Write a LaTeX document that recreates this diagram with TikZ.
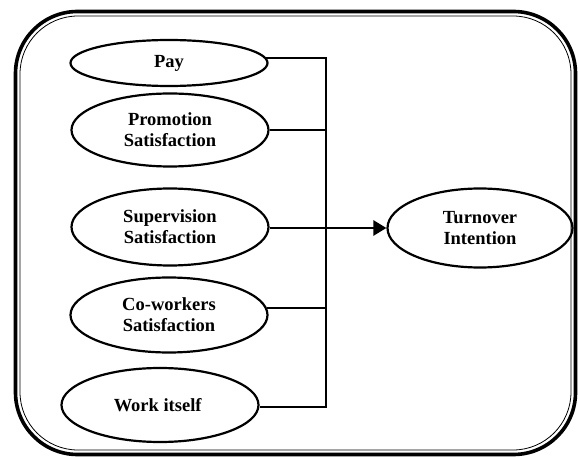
\documentclass[tikz,border=0pt]{standalone}
\usepackage{fontspec}
\setmainfont{Liberation Serif}
\usepackage{tikz}
\usetikzlibrary{arrows.meta}
\usetikzlibrary{positioning}
\usetikzlibrary{calc}
\usetikzlibrary{shapes.geometric}
\tikzset{basic factor/.style={draw,ellipse,inner sep=0pt,line width=2.2pt,
                              align=center,font=\bfseries\fontsize{18.5}{21}\selectfont}}
\tikzset{link/.style={draw,line width=2.6pt,line join=miter}}
\tikzset{frame/.style={draw,rounded corners=62pt}}

\begin{document}
\begin{tikzpicture}
      [
      x=1pt,y=-1pt,
      factor/.style={basic factor,minimum width=197pt,minimum height=#1},
      ]

      \useasboundingbox (0,0) rectangle (578,457);

      % frame
      \path [frame,line width=3.6pt] (15.5,11.5) rectangle (575.5,454.5);
      \path [frame,line width=0.8pt,rounded corners=58pt] (20,16) rectangle (571,450);

      % factors
      \foreach \n/\x/\y/\h/\t in
      {
      pay/169/63/46pt/Pay,
      promo/170/130/73pt/{Promotion\\Satisfaction},
      superv/170/227/77pt/{Supervision\\Satisfaction},
      cowork/169/315/75pt/{Co-workers\\Satisfaction},
      work/160/405/74pt/{Work itself}
      }
      {
      \node [factor=\h] (\n) at (\x,\y) {\t};
      }

      \node [factor=79pt,minimum width=185pt] (turnover) at (480,228) {Turnover\\Intention};

      % bus
      \coordinate (bustop) at (326,57);
      \coordinate (busbot) at (326,407);
      \coordinate (busmid) at (326,228);

      % edges
      \path [link] (pay.3.6) -- (pay.3.6 -| bustop) -- (busbot) -- (work.east |- busbot);
      \path [link] (promo.east) -- (promo.east -| bustop);
      \path [link] (superv.east |- busmid) -- (busmid);
      \path [link] (cowork.4.8) -- (cowork.4.8 -| bustop);

      \draw [line width=2.6pt,-{Triangle[length=13pt,width=15pt]}] (busmid) -- (turnover.west);

    \end{tikzpicture}
\end{document}
